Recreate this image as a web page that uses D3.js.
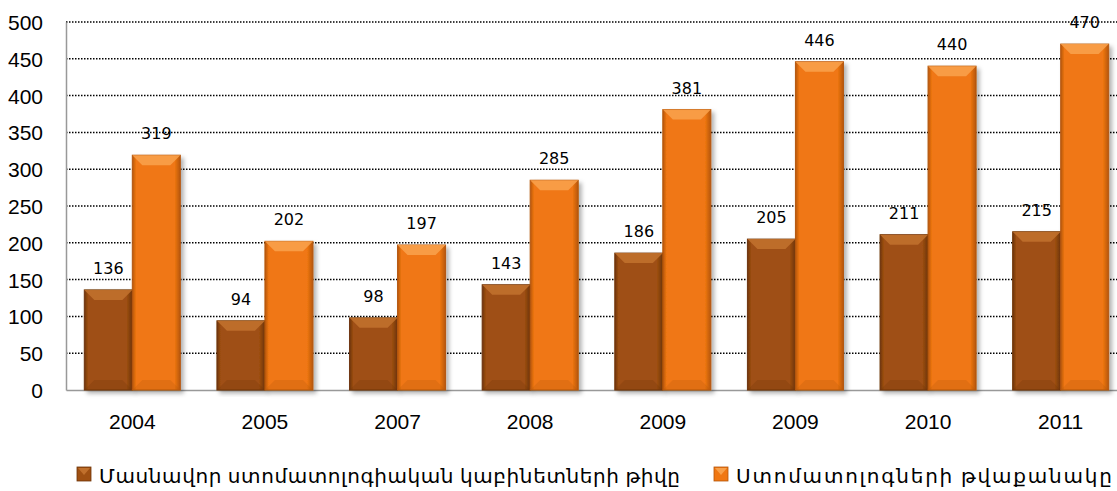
<!DOCTYPE html>
<html lang="hy">
<head>
<meta charset="UTF-8">
<title>Chart</title>
<style>
  body { margin: 0; background: #fff; }
  text { font-family: "Liberation Sans", Arial, sans-serif; fill: #000; }
  .label { font-family: "DejaVu Sans", sans-serif; }
  .legend text { font-family: "Noto Sans", "DejaVu Sans", sans-serif; }
</style>
</head>
<body>
<script src="https://cdn.jsdelivr.net/npm/d3@7"></script>
<script>
var years = ["2004", "2005", "2007", "2008", "2009", "2009", "2010", "2011"];
var cabinets = [136, 94, 98, 143, 186, 205, 211, 215];
var dentists = [319, 202, 197, 285, 381, 446, 440, 470];
var seriesNames = ["Մասնավոր ստոմատոլոգիական կաբինետների թիվը", "Ստոմատոլոգների թվաքանակը"];
var yTicks = [0, 50, 100, 150, 200, 250, 300, 350, 400, 450, 500];

var width = 1117, height = 491;
var plot = { left: 66, right: 1127, top: 22, bottom: 390 };
var colors = [
  { body: "#9f5012", light: "#c0702c", dark: "#6e3408" },
  { body: "#f07712", light: "#f8a04a", dark: "#b5560a" }
];

var svg = d3.select("body").append("svg")
  .attr("width", width)
  .attr("height", height);

var defs = svg.append("defs");
colors.forEach(function (c, i) {
  var g = defs.append("linearGradient").attr("id", "grad" + i)
    .attr("x1", "0").attr("x2", "1").attr("y1", "0").attr("y2", "0");
  g.append("stop").attr("offset", "0%").attr("stop-color", c.dark);
  g.append("stop").attr("offset", "8%").attr("stop-color", c.body);
  g.append("stop").attr("offset", "88%").attr("stop-color", c.body);
  g.append("stop").attr("offset", "100%").attr("stop-color", c.dark);
});
var sh = defs.append("filter").attr("id", "shadow")
  .attr("x", "-20%").attr("y", "-5%").attr("width", "150%").attr("height", "115%");
sh.append("feDropShadow").attr("dx", 3).attr("dy", 3).attr("stdDeviation", 2)
  .attr("flood-color", "#000").attr("flood-opacity", 0.3);

var x0 = d3.scaleBand()
  .domain(d3.range(years.length))
  .range([plot.left, plot.right])
  .paddingInner(0.276)
  .paddingOuter(0.138);

var x1 = d3.scaleBand()
  .domain([0, 1])
  .range([0, x0.bandwidth()]);

var y = d3.scaleLinear()
  .domain([0, 500])
  .range([plot.bottom, plot.top]);

// gridlines
svg.append("g").selectAll("line")
  .data(yTicks.filter(function (d) { return d > 0; }))
  .enter().append("line")
  .attr("x1", plot.left).attr("x2", plot.right)
  .attr("y1", function (d) { return y(d); })
  .attr("y2", function (d) { return y(d); })
  .attr("stroke", "#000")
  .attr("stroke-width", 1.5)
  .attr("stroke-dasharray", "1.5,1.5");

// y axis
var yAxis = d3.axisLeft(y).tickValues(yTicks).tickSize(0).tickPadding(23);
var gy = svg.append("g")
  .attr("transform", "translate(" + plot.left + ",0)")
  .call(yAxis);
gy.select(".domain").attr("stroke", "#999").attr("stroke-width", 1.5);
gy.selectAll("text").style("font-size", "21px").attr("dy", "0.36em");

// x axis
var xAxis = d3.axisBottom(x0).tickFormat(function (i) { return years[i]; }).tickSize(0).tickPadding(24);
var gx = svg.append("g")
  .attr("transform", "translate(0," + plot.bottom + ")")
  .call(xAxis);
gx.select(".domain").attr("stroke", "#999").attr("stroke-width", 1.5);
gx.selectAll("text").style("font-size", "21px");
gy.attr("font-family", null);
gx.attr("font-family", null);

var data = [cabinets, dentists];

var groups = svg.append("g").selectAll("g")
  .data(years)
  .enter().append("g")
  .attr("transform", function (d, i) { return "translate(" + x0(i) + ",0)"; });

function drawBar(sel, s) {
  sel.each(function (d, i) {
    var v = data[s][i];
    var g = d3.select(this);
    var bx = x1(s), bw = x1.bandwidth();
    var top = y(v), h = plot.bottom - top;
    var c = colors[s];
    g.append("rect")
      .attr("x", bx).attr("y", top).attr("width", bw).attr("height", h)
      .attr("fill", "url(#grad" + s + ")")
      .attr("stroke", c.dark).attr("stroke-width", 1)
      .attr("filter", "url(#shadow)");
    var bev = 10;
    g.append("path")
      .attr("d", "M" + bx + "," + top + "L" + (bx + bw) + "," + top +
        "L" + (bx + bw - bev) + "," + (top + bev) + "L" + (bx + bev) + "," + (top + bev) + "Z")
      .attr("fill", c.light).attr("opacity", 0.9);
    g.append("path")
      .attr("d", "M" + bx + "," + plot.bottom + "L" + (bx + bw) + "," + plot.bottom +
        "L" + (bx + bw - bev) + "," + (plot.bottom - bev) + "L" + (bx + bev) + "," + (plot.bottom - bev) + "Z")
      .attr("fill", c.dark).attr("opacity", 0.25);
    g.append("text")
      .attr("class", "label")
      .attr("x", bx + bw / 2)
      .attr("y", top - 16)
      .attr("text-anchor", "middle")
      .style("font-size", "16px")
      .text(v);
  });
}
groups.call(drawBar, 0);
groups.call(drawBar, 1);

// legend
var legend = svg.append("g").attr("class", "legend");
var legendX = [77, 714];
var legendLen = [581, 376];
seriesNames.forEach(function (name, s) {
  var c = colors[s];
  var lg = legend.append("g").attr("transform", "translate(" + legendX[s] + ",467)");
  lg.append("rect").attr("x", 0).attr("y", 0).attr("width", 14).attr("height", 14)
    .attr("fill", c.body).attr("stroke", c.dark).attr("stroke-width", 0.8);
  lg.append("path").attr("d", "M1,1L13,1L7,8Z").attr("fill", c.light);
  lg.append("text").attr("x", 22).attr("y", 16)
    .style("font-size", "20px")
    .attr("textLength", legendLen[s])
    .attr("lengthAdjust", "spacing")
    .text(name);
});
</script>
</body>
</html>
